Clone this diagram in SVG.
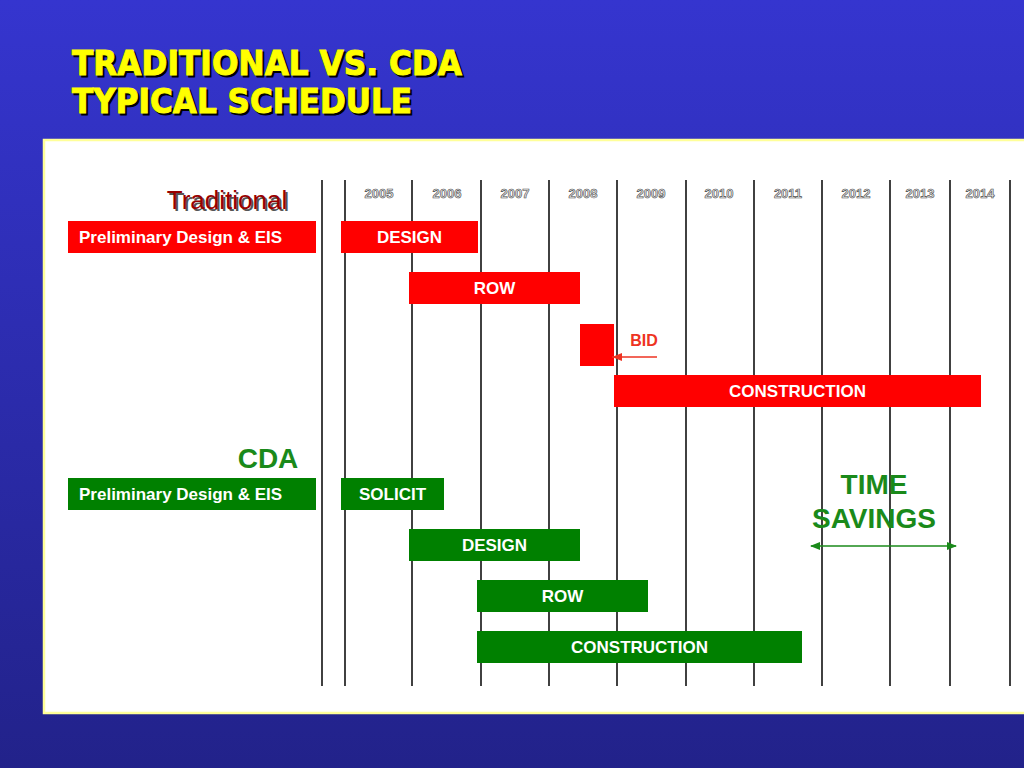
<svg xmlns="http://www.w3.org/2000/svg" width="1024" height="768" viewBox="0 0 1024 768">
<defs>
<linearGradient id="bg" x1="0" y1="0" x2="0" y2="1">
<stop offset="0" stop-color="#3535cf"/>
<stop offset="1" stop-color="#22228a"/>
</linearGradient>
<marker id="ahR" markerWidth="10" markerHeight="8" refX="10" refY="4" orient="auto" markerUnits="userSpaceOnUse">
<path d="M0,0 L10,4 L0,8 Z" fill="#ee3322"/>
</marker>
<marker id="ahG" markerWidth="10" markerHeight="8" refX="9" refY="4" orient="auto-start-reverse" markerUnits="userSpaceOnUse">
<path d="M0,0 L10,4 L0,8 Z" fill="#1a8a1a"/>
</marker>
</defs>
<style>
.title{font-family:"DejaVu Sans",Verdana,sans-serif;font-weight:bold;font-size:33px;fill:#ffff00;stroke:#ffff00;stroke-width:1}
.tshadow{font-family:"DejaVu Sans",Verdana,sans-serif;font-weight:bold;font-size:33px;fill:#000000;stroke:#000;stroke-width:1}
.yr{font-family:"Liberation Sans",Arial,sans-serif;font-weight:bold;font-size:13px;fill:#e8e8e8;stroke:#4a4a4a;stroke-width:0.6;text-anchor:middle}
.bl{font-family:"Liberation Sans",Arial,sans-serif;font-weight:bold;font-size:17px;fill:#ffffff}
.blc{font-family:"Liberation Sans",Arial,sans-serif;font-weight:bold;font-size:17px;fill:#ffffff;text-anchor:middle}
.grid{stroke:#111;stroke-width:1.6}
.red{fill:#ff0000}
.grn{fill:#008000}
.gtxt{font-family:"Liberation Sans",Arial,sans-serif;font-weight:bold;fill:#1a8a1a;text-anchor:middle}
</style>
<rect x="0" y="0" width="1024" height="768" fill="url(#bg)"/>
<g id="title">
<text class="tshadow" x="74" y="77" textLength="390" lengthAdjust="spacingAndGlyphs">TRADITIONAL VS. CDA</text>
<text class="title" x="72" y="75" textLength="390" lengthAdjust="spacingAndGlyphs">TRADITIONAL VS. CDA</text>
<text class="tshadow" x="74" y="115" textLength="340" lengthAdjust="spacingAndGlyphs">TYPICAL SCHEDULE</text>
<text class="title" x="72" y="113" textLength="340" lengthAdjust="spacingAndGlyphs">TYPICAL SCHEDULE</text>
</g>
<rect x="44" y="140" width="990" height="573" fill="#ffffff" stroke="#ffff99" stroke-width="2.5"/>
<g id="grid">
<line class="grid" x1="322" y1="180" x2="322" y2="686"/>
<line class="grid" x1="345" y1="180" x2="345" y2="686"/>
<line class="grid" x1="412" y1="180" x2="412" y2="686"/>
<line class="grid" x1="481" y1="180" x2="481" y2="686"/>
<line class="grid" x1="549" y1="180" x2="549" y2="686"/>
<line class="grid" x1="617" y1="180" x2="617" y2="686"/>
<line class="grid" x1="686" y1="180" x2="686" y2="686"/>
<line class="grid" x1="754" y1="180" x2="754" y2="686"/>
<line class="grid" x1="822" y1="180" x2="822" y2="686"/>
<line class="grid" x1="890" y1="180" x2="890" y2="686"/>
<line class="grid" x1="950" y1="180" x2="950" y2="686"/>
<line class="grid" x1="1010" y1="180" x2="1010" y2="686"/>
</g>
<g id="years">
<text class="yr" x="379" y="198">2005</text>
<text class="yr" x="447" y="198">2006</text>
<text class="yr" x="515" y="198">2007</text>
<text class="yr" x="583" y="198">2008</text>
<text class="yr" x="651" y="198">2009</text>
<text class="yr" x="719" y="198">2010</text>
<text class="yr" x="788" y="198">2011</text>
<text class="yr" x="856" y="198">2012</text>
<text class="yr" x="920" y="198">2013</text>
<text class="yr" x="980" y="198">2014</text>
</g>
<g id="traditional-label">
<text x="229" y="211" font-family="Liberation Sans,Arial,sans-serif" font-size="26" text-anchor="middle" fill="#555">Traditional</text>
<text x="227" y="209" font-family="Liberation Sans,Arial,sans-serif" font-size="26" text-anchor="middle" fill="#990000">Traditional</text>
</g>
<g id="t-prelim"><rect class="red" x="68" y="221" width="248" height="32"/><text class="bl" x="79" y="243">Preliminary Design &amp; EIS</text></g>
<g id="t-design"><rect class="red" x="341" y="221" width="137" height="32"/><text class="blc" x="409.5" y="243">DESIGN</text></g>
<g id="t-row"><rect class="red" x="409" y="272" width="171" height="32"/><text class="blc" x="494.5" y="294">ROW</text></g>
<g id="t-bid"><rect class="red" x="580" y="324" width="34" height="42"/><text x="644" y="346" font-family="Liberation Sans,Arial,sans-serif" font-weight="bold" font-size="16" fill="#ee3322" text-anchor="middle">BID</text></g>
<g id="t-construction"><rect class="red" x="614" y="375" width="367" height="32"/><text class="blc" x="797.5" y="397">CONSTRUCTION</text></g>
<g id="cda-label"><text class="gtxt" x="268" y="468" font-size="28">CDA</text></g>
<g id="c-prelim"><rect class="grn" x="68" y="478" width="248" height="32"/><text class="bl" x="79" y="500">Preliminary Design &amp; EIS</text></g>
<g id="c-solicit"><rect class="grn" x="341" y="478" width="103" height="32"/><text class="blc" x="392.5" y="500">SOLICIT</text></g>
<g id="c-design"><rect class="grn" x="409" y="529" width="171" height="32"/><text class="blc" x="494.5" y="551">DESIGN</text></g>
<g id="c-row"><rect class="grn" x="477" y="580" width="171" height="32"/><text class="blc" x="562.5" y="602">ROW</text></g>
<g id="c-construction"><rect class="grn" x="477" y="631" width="325" height="32"/><text class="blc" x="639.5" y="653">CONSTRUCTION</text></g>
<g id="time-savings"><text class="gtxt" x="874" y="494" font-size="28">TIME</text><text class="gtxt" x="874" y="528" font-size="28">SAVINGS</text></g>
<g id="connectors">
<line x1="657" y1="357" x2="612" y2="357" stroke="#ee3322" stroke-width="1.5" marker-end="url(#ahR)"/>
<line x1="811" y1="546" x2="956" y2="546" stroke="#1a8a1a" stroke-width="1.5" marker-start="url(#ahG)" marker-end="url(#ahG)"/>
</g>
</svg>
